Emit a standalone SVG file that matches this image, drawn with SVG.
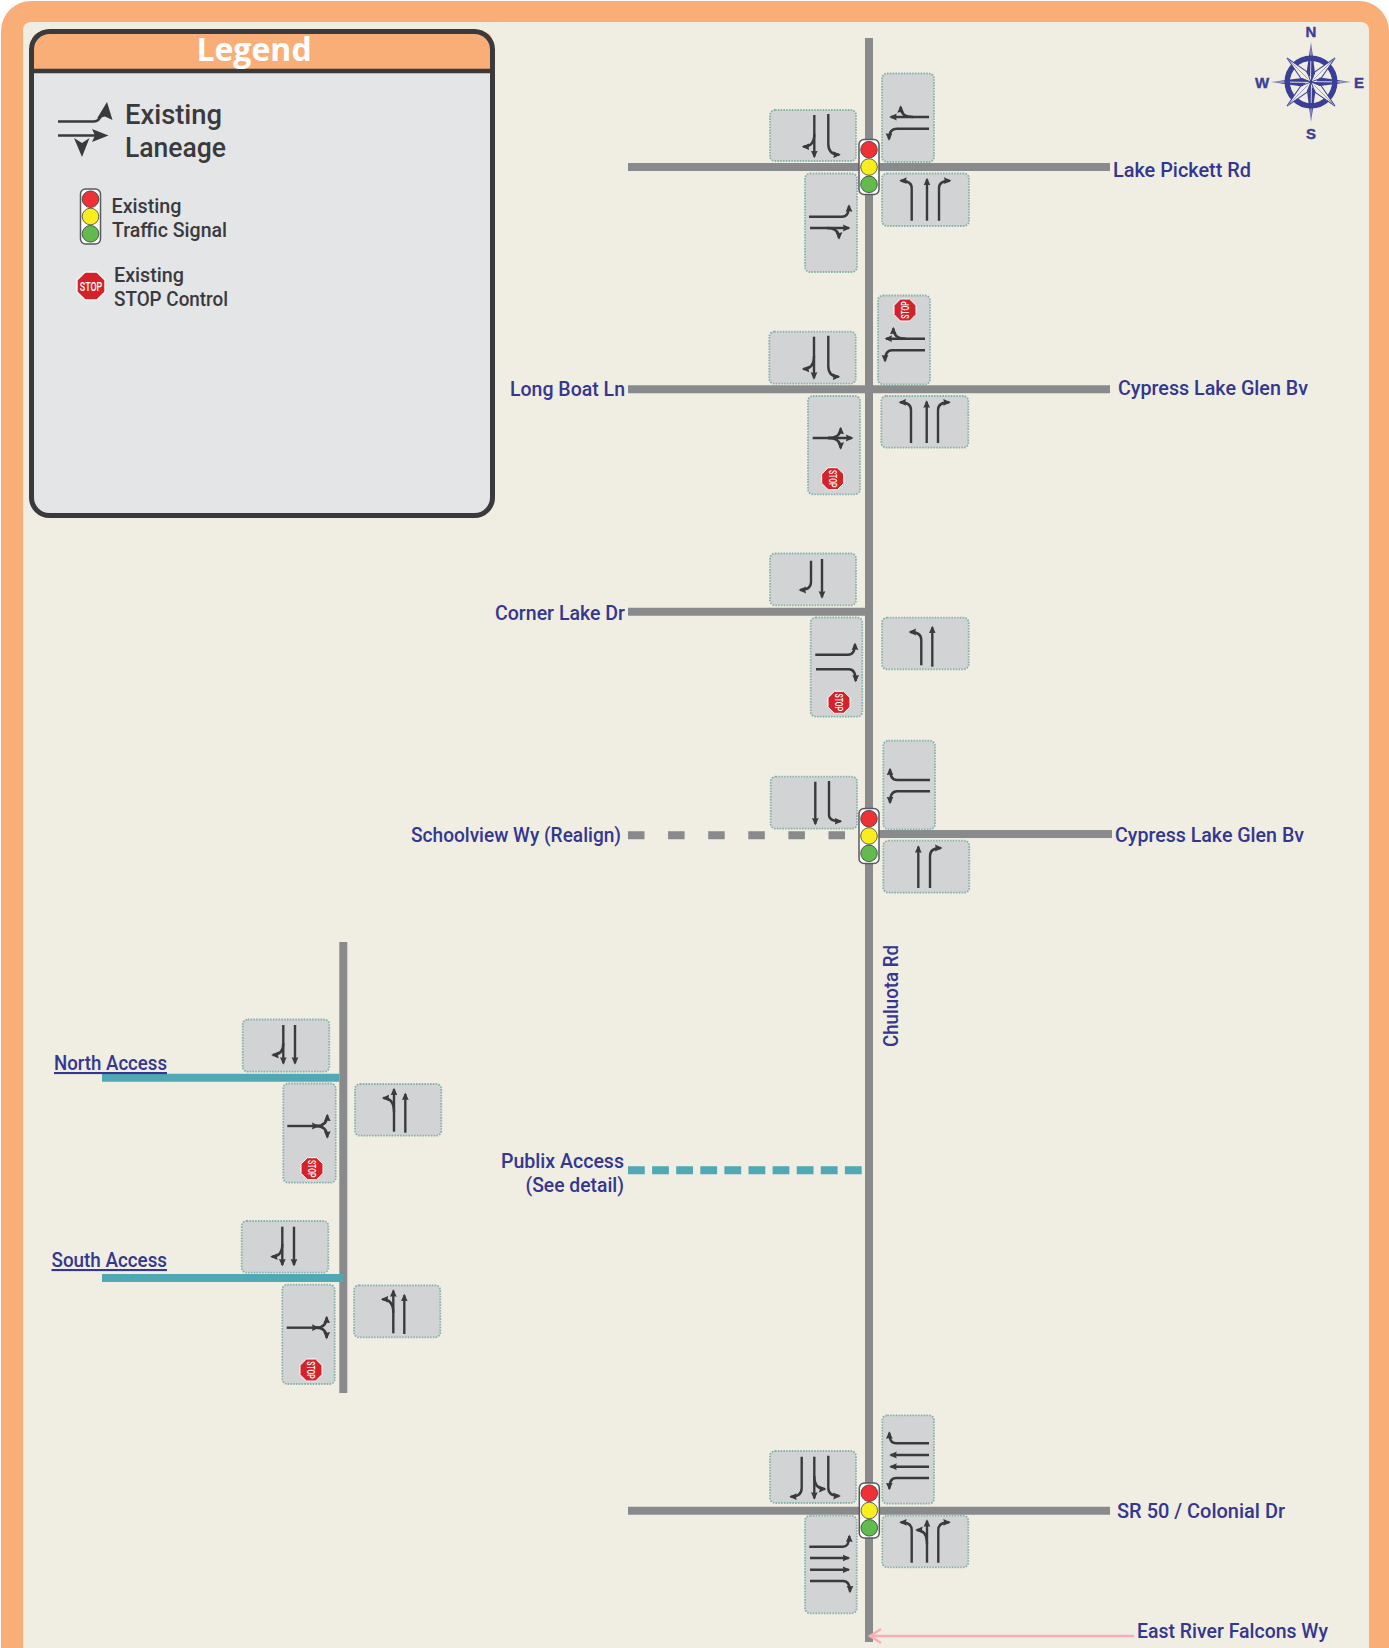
<svg xmlns="http://www.w3.org/2000/svg" width="1389" height="1648" viewBox="0 0 1389 1648">
<style>
.t{font-family:"Roboto","DejaVu Sans Condensed",sans-serif;font-weight:500}
.lb{fill:#34378f;font-size:21px}
.lg{fill:#3a3a3c}
.st{fill:#fff;font-size:10px}
.box{fill:#d2d3d5;stroke:#86b3a9;stroke-width:1.8;stroke-dasharray:1.6 1.2}
.rd{stroke:#888a8c;stroke-width:8;fill:none}
.tl{stroke:#4fa8b4;stroke-width:8;fill:none}
.a{fill:none;stroke:#3a3a3c;stroke-width:2.4;marker-end:url(#ah)}
.oct{fill:#d2232a;stroke:#fff;stroke-width:1}
</style>
<defs>
<marker id="ah" markerUnits="userSpaceOnUse" markerWidth="8" markerHeight="8" refX="6" refY="4" orient="auto" viewBox="0 0 8 8"><path d="M0,0.6 L7.5,4 L0,7.4 L0.8,4z" fill="#3a3a3c"/></marker>
<polygon id="oct" class="oct" points="-4.6,-11 4.6,-11 11,-4.6 11,4.6 4.6,11 -4.6,11 -11,4.6 -11,-4.6"/>
<g id="signal">
<rect x="-10" y="-27.5" width="20" height="55" rx="5" fill="#fff" stroke="#58595b" stroke-width="1.5"/>
<circle cy="-17.3" r="8.3" fill="#ee3135" stroke="#3a3a3c" stroke-width=".8"/>
<circle cy="0" r="8.3" fill="#f9ed1d" stroke="#3a3a3c" stroke-width=".8"/>
<circle cy="17.3" r="8.3" fill="#62bb4d" stroke="#3a3a3c" stroke-width=".8"/>
</g>
<g id="kite-c"><polygon points="0,-40 -4.5,-9 -0.8,-5 -0.4,-30" fill="#3b3f96"/><polygon points="0,-40 4,-9 0,0 0.4,-30" fill="#3b3f96"/></g>
<g id="kite-d"><polygon points="0,-34 -4.5,-10 0,0 4.5,-10" fill="#f0eee3" stroke="#3b3f96" stroke-width="1"/><path d="M0,-33 L0,-4" stroke="#8f92c4" stroke-width=".8"/></g>
</defs>
<rect width="1389" height="1648" fill="#fff"/>
<rect x="1" y="1" width="1388" height="1700" rx="30" fill="#f9ae78"/>
<rect x="23" y="22" width="1346" height="1680" rx="8" fill="#f0eee3"/>

<g id="legend">
<rect x="31.5" y="31.5" width="461" height="484" rx="20" fill="#e4e5e7"/>
<path d="M31.5,71 V43.5 Q31.5,31.5 43.5,31.5 H480.5 Q492.5,31.5 492.5,43.5 V71 Z" fill="#f9ae78"/>
<rect x="31.5" y="31.5" width="461" height="484" rx="18" fill="none" stroke="#3a3a3c" stroke-width="5"/>
<path d="M31.5,71 H492.5" stroke="#3a3a3c" stroke-width="4.5"/>
<text x="254" y="61" text-anchor="middle" font-family="'Open Sans',sans-serif" font-weight="700" font-size="32" fill="#fff">Legend</text>
<g transform="translate(0,2)">
<path d="M58,119.5 H94 Q99,119.5 102,112" fill="none" stroke="#3a3a3c" stroke-width="2.5"/>
<polygon points="107,100 112.5,118 105,114.5 97,116.5" fill="#3a3a3c"/>
<path d="M58,133.5 H96" fill="none" stroke="#3a3a3c" stroke-width="2.5"/>
<polygon points="108.5,133.5 92,127 95,133.5 92,140" fill="#3a3a3c"/>
<polygon points="82,155 74,136 82,141 89.5,136" fill="#3a3a3c"/>
</g>
<text class="t lg" x="125" y="124" font-size="28" textLength="97" lengthAdjust="spacingAndGlyphs">Existing</text>
<text class="t lg" x="125" y="157" font-size="28" textLength="101" lengthAdjust="spacingAndGlyphs">Laneage</text>
<use href="#signal" transform="translate(90.5,216.5)"/>
<text class="t lg" x="111.5" y="213" font-size="20" textLength="70" lengthAdjust="spacingAndGlyphs">Existing</text>
<text class="t lg" x="112" y="237" font-size="20" textLength="115" lengthAdjust="spacingAndGlyphs">Traffic Signal</text>
<g transform="translate(91,286) scale(1.27)"><use href="#oct"/><text class="t st" y="3.6" x="-8.8" textLength="17.6" lengthAdjust="spacingAndGlyphs">STOP</text></g>
<text class="t lg" x="114" y="282" font-size="20" textLength="70" lengthAdjust="spacingAndGlyphs">Existing</text>
<text class="t lg" x="114" y="306" font-size="20" textLength="114" lengthAdjust="spacingAndGlyphs">STOP Control</text>
</g>

<g id="compass">
<g transform="translate(1311,82)">
<circle r="23.5" fill="none" stroke="#3b3f96" stroke-width="6"/>
<circle r="21" fill="#f0eee3"/>
<use href="#kite-d" transform="rotate(45)"/>
<use href="#kite-d" transform="rotate(135)"/>
<use href="#kite-d" transform="rotate(225)"/>
<use href="#kite-d" transform="rotate(315)"/>
<use href="#kite-c"/>
<use href="#kite-c" transform="rotate(90)"/>
<use href="#kite-c" transform="rotate(180)"/>
<use href="#kite-c" transform="rotate(270)"/>
</g>
<g font-family="'Liberation Sans',sans-serif" font-weight="700" font-size="15" fill="#3b3f96" stroke="#3b3f96" stroke-width=".4" text-anchor="middle">
<text x="1311" y="37">N</text><text x="1311" y="139">S</text><text x="1262" y="88">W</text><text x="1359" y="88">E</text>
</g>
</g>

<g id="connectors">
<path class="rd" d="M869,38 V1642"/>
<path class="rd" d="M628,167 H1110"/>
<path class="rd" d="M628,389.3 H1110"/>
<path class="rd" d="M628,611.7 H865"/>
<path class="rd" d="M628,835.3 H846" stroke-dasharray="16.5 23.6"/>
<path class="rd" d="M879,834 H1112"/>
<path class="rd" d="M628,1510.7 H1110"/>
<path class="rd" d="M343.3,942 V1393"/>
<path class="tl" d="M102,1077.7 H339.3"/>
<path class="tl" d="M102,1278 H343"/>
<path class="tl" d="M628,1170.3 H862" stroke-width="7" stroke-dasharray="16.8 7.3"/>
<path d="M1134,1636 H871 M881,1629 L870,1636 L881,1643" fill="none" stroke="#f8aeb4" stroke-width="2.4"/>
</g>

<g id="int-lake-pickett">
<rect class="box" x="770" y="110" width="86" height="51" rx="5"/>
<rect class="box" x="882" y="73.5" width="52" height="88.5" rx="5"/>
<rect class="box" x="882" y="173.5" width="87" height="52.5" rx="5"/>
<rect class="box" x="805" y="173.5" width="52" height="98.5" rx="5"/>
<path class="a" d="M814.3,115 V156.7"/>
<path class="a" d="M814.3,134 Q814.3,146.7 803.3,146.7"/>
<path class="a" d="M828.3,114 V144 Q828.3,154.7 839.3,154.7"/>
<path class="a" d="M929,117 H890.7"/>
<path class="a" d="M913,117 Q900.7,117 900.7,106.7"/>
<path class="a" d="M929,128.7 H897 Q889,128.7 889,139.3"/>
<path class="a" d="M911.7,220.7 V188 Q911.7,180.7 900.7,180.7"/>
<path class="a" d="M927,220.7 V179.3"/>
<path class="a" d="M939,220.7 V188 Q939,180.7 950,180.7"/>
<path class="a" d="M809,216.7 H842 Q849,216.7 849,205.7"/>
<path class="a" d="M810,228 H849"/>
<path class="a" d="M827,228 Q839,228 839,238.3"/>
<use href="#signal" transform="translate(869,167)"/>
<text class="t lb" x="1113" y="176.5" textLength="138" lengthAdjust="spacingAndGlyphs">Lake Pickett Rd</text>
</g>

<g id="int-long-boat">
<rect class="box" x="769.3" y="331.7" width="86.4" height="52" rx="5"/>
<rect class="box" x="878" y="295.5" width="52" height="88.8" rx="5"/>
<rect class="box" x="881.3" y="396" width="87" height="51.7" rx="5"/>
<rect class="box" x="808" y="396" width="52" height="98.3" rx="5"/>
<path class="a" d="M814,336.7 V378.3"/>
<path class="a" d="M814,356 Q814,369 803.3,369"/>
<path class="a" d="M828.3,335.7 V366 Q828.3,376.7 838.7,376.7"/>
<path class="a" d="M925,338.7 H886"/>
<path class="a" d="M906,338.7 Q893.3,338.7 893.3,328.3"/>
<path class="a" d="M925,350.3 H892 Q885,350.3 885,361"/>
<path class="a" d="M911,443 V410 Q911,402.3 900,402.3"/>
<path class="a" d="M926.7,443 V401.7"/>
<path class="a" d="M938,443 V410 Q938,402.3 949.3,402.3"/>
<path class="a" d="M812.7,438 H852"/>
<path class="a" d="M828,438 Q840.7,438 840.7,428.3"/>
<path class="a" d="M828,438 Q840.7,438 840.7,448.3"/>
<g transform="translate(905,310) rotate(-90)"><use href="#oct"/><text class="t st" y="3.6" x="-8.8" textLength="17.6" lengthAdjust="spacingAndGlyphs">STOP</text></g>
<g transform="translate(832.7,478.7) rotate(90)"><use href="#oct"/><text class="t st" y="3.6" x="-8.8" textLength="17.6" lengthAdjust="spacingAndGlyphs">STOP</text></g>
<text class="t lb" x="510" y="396" textLength="115" lengthAdjust="spacingAndGlyphs">Long Boat Ln</text>
<text class="t lb" x="1118" y="395" textLength="190" lengthAdjust="spacingAndGlyphs">Cypress Lake Glen Bv</text>
</g>

<g id="int-corner-lake">
<rect class="box" x="770" y="553.5" width="86" height="51.8" rx="5"/>
<rect class="box" x="810.7" y="617.5" width="51.6" height="99.2" rx="5"/>
<rect class="box" x="882" y="617.7" width="86.7" height="51.6" rx="5"/>
<path class="a" d="M811,560.7 V582 Q811,590 800,590"/>
<path class="a" d="M822,559 V597.3"/>
<path class="a" d="M815.3,654.7 H848 Q855,654.7 855,644"/>
<path class="a" d="M816,669.3 H849 Q855.7,669.3 855.7,681"/>
<path class="a" d="M921.3,665.3 V640 Q921.3,632 910,632"/>
<path class="a" d="M932.3,666.7 V627.3"/>
<g transform="translate(839,702.3) rotate(90)"><use href="#oct"/><text class="t st" y="3.6" x="-8.8" textLength="17.6" lengthAdjust="spacingAndGlyphs">STOP</text></g>
<text class="t lb" x="495" y="620" textLength="130" lengthAdjust="spacingAndGlyphs">Corner Lake Dr</text>
</g>

<g id="int-schoolview">
<rect class="box" x="770.7" y="776.7" width="86.3" height="52" rx="5"/>
<rect class="box" x="883.3" y="740.7" width="51.7" height="88.6" rx="5"/>
<rect class="box" x="883.3" y="840.7" width="86" height="52" rx="5"/>
<path class="a" d="M815.3,781.7 V824"/>
<path class="a" d="M829,781 V815 Q829,821.3 840.7,821.3"/>
<path class="a" d="M930,780 H897 Q890,780 890,769.3"/>
<path class="a" d="M930,791.3 H897 Q890,791.3 890,802.7"/>
<path class="a" d="M918.3,888 V846.7"/>
<path class="a" d="M930,888 V856 Q930,848 941,848"/>
<use href="#signal" transform="translate(869,836)"/>
<text class="t lb" x="411" y="842" textLength="210" lengthAdjust="spacingAndGlyphs">Schoolview Wy (Realign)</text>
<text class="t lb" x="1115" y="842" textLength="189" lengthAdjust="spacingAndGlyphs">Cypress Lake Glen Bv</text>
</g>

<g id="road-labels">
<text class="t lb" transform="translate(898,1047) rotate(-90)" textLength="102" lengthAdjust="spacingAndGlyphs">Chuluota Rd</text>
<text class="t lb" x="501" y="1168" textLength="123" lengthAdjust="spacingAndGlyphs">Publix Access</text>
<text class="t lb" x="525.5" y="1192" textLength="98.5" lengthAdjust="spacingAndGlyphs">(See detail)</text>
<text class="t lb" x="1137" y="1638" textLength="191" lengthAdjust="spacingAndGlyphs">East River Falcons Wy</text>
</g>

<g id="int-north-access">
<rect class="box" x="242.7" y="1019.5" width="86.6" height="52.2" rx="5"/>
<rect class="box" x="283.3" y="1083.5" width="52.4" height="99.2" rx="5"/>
<rect class="box" x="355" y="1084" width="86.3" height="51.7" rx="5"/>
<path class="a" d="M283.3,1025 V1063.3"/>
<path class="a" d="M283.3,1043 Q283.3,1055 272.7,1055"/>
<path class="a" d="M295,1025 V1063.3"/>
<path class="a" d="M287.3,1126 H318"/>
<path class="a" d="M316,1126 Q327.3,1126 327.3,1115.3"/>
<path class="a" d="M316,1126 Q327.3,1126 327.3,1137.3"/>
<path class="a" d="M394,1131.7 V1089.3"/>
<path class="a" d="M394,1112 Q394,1098 383.3,1098"/>
<path class="a" d="M405.3,1132.7 V1094"/>
<g transform="translate(312,1168.7) rotate(90)"><use href="#oct"/><text class="t st" y="3.6" x="-8.8" textLength="17.6" lengthAdjust="spacingAndGlyphs">STOP</text></g>
<text class="t lb" x="54" y="1070" text-decoration="underline" textLength="113" lengthAdjust="spacingAndGlyphs">North Access</text>
</g>

<g id="int-south-access">
<rect class="box" x="241.7" y="1221" width="86.6" height="51.7" rx="5"/>
<rect class="box" x="282.3" y="1284.7" width="52.4" height="99.3" rx="5"/>
<rect class="box" x="354" y="1285.3" width="86.3" height="52" rx="5"/>
<path class="a" d="M282.3,1226.7 V1265"/>
<path class="a" d="M282.3,1244 Q282.3,1256.7 271.7,1256.7"/>
<path class="a" d="M294,1226.7 V1265"/>
<path class="a" d="M286.7,1327.7 H318"/>
<path class="a" d="M316,1327.7 Q326.7,1327.7 326.7,1317.3"/>
<path class="a" d="M316,1327.7 Q326.7,1327.7 326.7,1338"/>
<path class="a" d="M393.3,1333.3 V1290.7"/>
<path class="a" d="M393.3,1313 Q393.3,1299.3 382.3,1299.3"/>
<path class="a" d="M404.3,1334 V1295.3"/>
<g transform="translate(311,1370) rotate(90)"><use href="#oct"/><text class="t st" y="3.6" x="-8.8" textLength="17.6" lengthAdjust="spacingAndGlyphs">STOP</text></g>
<text class="t lb" x="51.5" y="1267" text-decoration="underline" textLength="115.5" lengthAdjust="spacingAndGlyphs">South Access</text>
</g>

<g id="int-sr50">
<rect class="box" x="770" y="1451" width="86" height="52" rx="5"/>
<rect class="box" x="882.3" y="1415.3" width="51.7" height="88.4" rx="5"/>
<rect class="box" x="882.3" y="1515.7" width="86" height="51.6" rx="5"/>
<rect class="box" x="805" y="1515.7" width="51.7" height="97.6" rx="5"/>
<path class="a" d="M801.7,1456.7 V1488 Q801.7,1496.7 790.7,1496.7"/>
<path class="a" d="M814.3,1456.7 V1498.3"/>
<path class="a" d="M814.3,1476 Q814.3,1489 825,1489"/>
<path class="a" d="M828.3,1455.7 V1488 Q828.3,1496 839.3,1496"/>
<path class="a" d="M929,1443.3 H896 Q889.3,1443.3 889.3,1432.7"/>
<path class="a" d="M929,1455 H890.7"/>
<path class="a" d="M929,1466.7 H890.7"/>
<path class="a" d="M929,1478 H896 Q889.3,1478 889.3,1488.7"/>
<path class="a" d="M911.7,1562.7 V1530 Q911.7,1522.3 900.7,1522.3"/>
<path class="a" d="M927,1562.7 V1520.7"/>
<path class="a" d="M927,1544 Q927,1530 916.7,1530"/>
<path class="a" d="M938.3,1562.7 V1530 Q938.3,1522.3 949.3,1522.3"/>
<path class="a" d="M809.3,1546.7 H843 Q849.3,1546.7 849.3,1536"/>
<path class="a" d="M810,1558 H848.7"/>
<path class="a" d="M810,1569.7 H848.7"/>
<path class="a" d="M810,1581 H843 Q850,1581 850,1591.7"/>
<use href="#signal" transform="translate(869.3,1510.5)"/>
<text class="t lb" x="1117" y="1518" textLength="168" lengthAdjust="spacingAndGlyphs">SR 50 / Colonial Dr</text>
</g>
</svg>
